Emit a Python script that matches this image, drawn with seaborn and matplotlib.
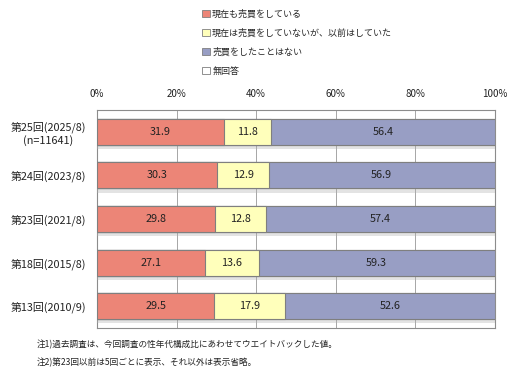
import matplotlib
matplotlib.use("Agg")
import matplotlib.pyplot as plt
import matplotlib.patheffects as pe
from matplotlib.patches import Patch
import seaborn as sns
import pandas as pd
import numpy as np

categories = ["第25回(2025/8)\n(n=11641)", "第24回(2023/8)", "第23回(2021/8)",
              "第18回(2015/8)", "第13回(2010/9)"]
series_names = ["現在も売買をしている", "現在は売買をしていないが、以前はしていた",
                "売買をしたことはない", "無回答"]
current = [31.9, 30.3, 29.8, 27.1, 29.5]
past = [11.8, 12.9, 12.8, 13.6, 17.9]
never = [56.4, 56.9, 57.4, 59.3, 52.6]
no_answer = [0.0, 0.0, 0.0, 0.0, 0.0]
x_ticks = [0, 20, 40, 60, 80, 100]
x_ticklabels = ["0%", "20%", "40%", "60%", "80%", "100%"]
notes = ["注1)過去調査は、今回調査の性年代構成比にあわせてウエイトバックした値。",
         "注2)第23回以前は5回ごとに表示、それ以外は表示省略。"]

colors = ["#EC8577", "#FFFFBB", "#989EC4", "#FFFFFF"]
edge = "#7F7F7F"

sns.set_theme(style="white")
plt.rcParams["font.family"] = ["Noto Sans CJK JP", "DejaVu Sans"]
TXT = "#222222"

df = pd.DataFrame({"cat": categories, "current": current, "past": past,
                   "never": never, "na": no_answer})
df["c1"] = df["current"]
df["c2"] = df["c1"] + df["past"]
df["c3"] = df["c2"] + df["never"]
df["c4"] = df["c3"] + df["na"]

fig = plt.figure(figsize=(5.28, 3.87), dpi=100)
ax = fig.add_axes([97 / 528, 1 - 328 / 387, (494.5 - 97) / 528, (328 - 110) / 387])

layers = [("c4", colors[3]), ("c3", colors[2]), ("c2", colors[1]), ("c1", colors[0])]
for i, (col, colr) in enumerate(layers):
    sns.barplot(data=df, y="cat", x=col, orient="h", color=colr, width=0.6,
                saturation=1, edgecolor=edge, linewidth=0.8, ax=ax, zorder=3 + i)
    if i == 0:
        for p in ax.patches:
            p.set_path_effects([pe.SimplePatchShadow(offset=(0, -3), shadow_rgbFace="#B0B0B0",
                                                     alpha=0.35), pe.Normal()])

# value labels
starts = [np.zeros(len(df)), df["c1"].values, df["c2"].values]
vals = [df["current"].values, df["past"].values, df["never"].values]
for s, v in zip(starts, vals):
    for yi, (a, b) in enumerate(zip(s, v)):
        ax.text(a + b / 2, yi, f"{b:.1f}", ha="center", va="center", fontsize=7.8,
                color=TXT, zorder=10)

ax.set_xlim(0, 100)
ax.set_ylim(4.5, -0.5)
ax.set_xticks(x_ticks)
ax.set_xticklabels(x_ticklabels, fontsize=7.0, color=TXT)
ax.xaxis.tick_top()
ax.tick_params(axis="x", length=0, pad=8)
ax.tick_params(axis="y", length=0, pad=8, labelsize=7.8, labelcolor=TXT)
for lbl in ax.get_yticklabels():
    lbl.set_multialignment("center")
ax.set_xlabel("")
ax.set_ylabel("")
ax.grid(axis="x", color="#A6A6A6", linewidth=0.7, zorder=0)
ax.set_axisbelow(True)
for sp in ax.spines.values():
    sp.set_color("#8C8C8C")
    sp.set_linewidth(0.8)

handles = [Patch(facecolor=c, edgecolor=edge, linewidth=0.6) for c in colors]
fig.legend(handles, series_names, loc="upper left", bbox_to_anchor=(196 / 528, 1 - 3 / 387),
           frameon=False, fontsize=6.5, handlelength=0.8, handleheight=0.8,
           handletextpad=0.3, labelspacing=1.1, borderpad=0.2)

fig.text(37 / 528, 1 - 345 / 387, notes[0], fontsize=6.2, va="center", ha="left", color=TXT)
fig.text(37 / 528, 1 - 363 / 387, notes[1], fontsize=6.2, va="center", ha="left", color=TXT)

fig.savefig("out.png", dpi=100)
